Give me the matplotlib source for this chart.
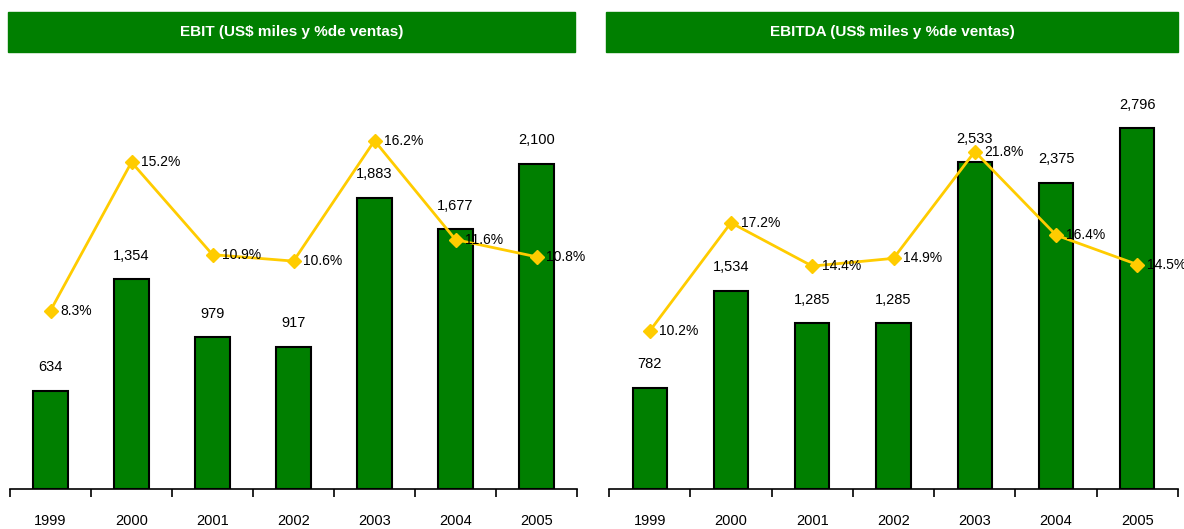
import matplotlib.pyplot as plt
import numpy as np
from matplotlib.patches import Rectangle

years = ["1999", "2000", "2001", "2002", "2003", "2004", "2005"]

ebit = [634, 1354, 979, 917, 1883, 1677, 2100]
ebit_pct = [8.3, 15.2, 10.9, 10.6, 16.2, 11.6, 10.8]

ebitda = [782, 1534, 1285, 1285, 2533, 2375, 2796]
ebitda_pct = [10.2, 17.2, 14.4, 14.9, 21.8, 16.4, 14.5]

bar_green = "#007F00"
line_gold = "#FFCC00"
font = ["Liberation Sans", "DejaVu Sans"]

W, H = 1184, 529
fig = plt.figure(figsize=(W / 100, H / 100), dpi=100)


def panel(x0, x1, title, values, pcts, ymax, pmax, bx0, bx1):
    # green title banner
    fig.patches.append(Rectangle((bx0 / W, 1 - 52 / H), (bx1 - bx0) / W, 40 / H,
                                 transform=fig.transFigure, color=bar_green, zorder=0))
    fig.text((bx0 + bx1) / 2 / W, 1 - 32 / H, title, ha="center", va="center",
             color="white", fontsize=11, fontweight="bold", family=font)

    ax = fig.add_axes([x0 / W, 40 / H, (x1 - x0) / W, (489 - 102) / H])
    x = np.arange(len(years))
    ax.bar(x, values, width=0.42, color=bar_green, edgecolor="black", linewidth=1.5, zorder=2)
    for xi, v in zip(x, values):
        ax.annotate(f"{v:,}", (xi, v), xytext=(0, 12), textcoords="offset points",
                    ha="center", va="bottom", fontsize=10.5, family=font)
    ax.set_ylim(0, ymax)
    ax.set_xlim(-0.5, len(years) - 0.5)
    for s in ["top", "right", "left"]:
        ax.spines[s].set_visible(False)
    ax.spines["bottom"].set_linewidth(1.2)
    ax.set_yticks([])
    ax.set_xticks(x)
    ax.set_xticklabels(years, family=font, fontsize=10.5)
    ax.tick_params(axis="x", which="major", length=0, pad=18)
    ax.set_xticks(np.arange(-0.5, len(years)), minor=True)
    ax.tick_params(axis="x", which="minor", length=6, width=1.2, direction="out")

    ax2 = ax.twinx()
    ax2.plot(x, pcts, color=line_gold, lw=2, marker="D", markersize=7, zorder=3)
    for xi, p in zip(x, pcts):
        ax2.annotate(f"{p:.1f}%", (xi, p), xytext=(7, 0), textcoords="offset points",
                     ha="left", va="center", fontsize=10, family=font)
    ax2.set_ylim(0, pmax)
    ax2.set_yticks([])
    for s in ax2.spines.values():
        s.set_visible(False)


panel(10, 577, "EBIT (US$ miles y %de ventas)", ebit, ebit_pct, 2500, 18, 8, 575)
panel(609, 1178, "EBITDA (US$ miles y %de ventas)", ebitda, ebitda_pct, 3000, 25, 606, 1178)

fig.savefig("out.png", dpi=100)
